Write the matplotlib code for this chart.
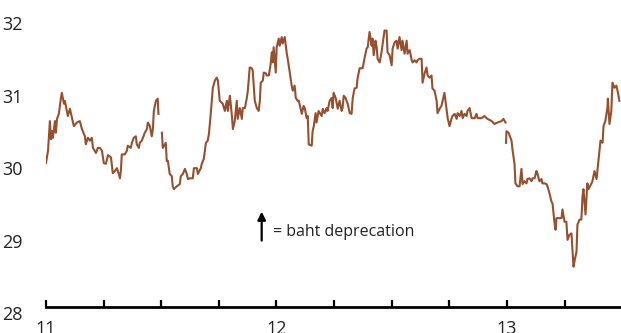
import numpy as np
import matplotlib
matplotlib.use("Agg")
import matplotlib.pyplot as plt
from matplotlib.ticker import FixedLocator, MultipleLocator

# baht per US dollar, decimal years since start of 2011 (nan = break in the line)
t_offset = [
    0.000, 0.009, 0.017, 0.022, 0.026, 0.030, 0.039, 0.043, 0.048, 0.056,
    0.065, 0.069, 0.078, 0.082, 0.095, 0.104, 0.113, 0.121, 0.134, 0.147,
    0.156, 0.169, 0.173, 0.182, 0.191, 0.199, 0.204, 0.217, 0.225, 0.234,
    0.243, 0.251, 0.260, 0.269, 0.282, 0.290, 0.299, 0.308, 0.316, 0.321,
    0.325, 0.329, 0.342, 0.351, 0.355, 0.368, 0.373, 0.381, 0.390, 0.394,
    0.403, 0.407, 0.416, 0.429, 0.438, 0.442, 0.451, 0.459, 0.464, 0.468,
    0.477, 0.485, 0.488, 0.495, 0.503, 0.507, 0.516, 0.520, 0.524, 0.529,
    0.537, 0.546, 0.550, 0.555, 0.568, 0.581, 0.585, 0.594, 0.603, 0.611,
    0.616, 0.624, 0.637, 0.642, 0.655, 0.659, 0.672, 0.676, 0.685, 0.694,
    0.702, 0.707, 0.715, 0.724, 0.733, 0.741, 0.746, 0.754, 0.767, 0.776,
    0.785, 0.789, 0.798, 0.806, 0.811, 0.819, 0.828, 0.832, 0.841, 0.850,
    0.854, 0.863, 0.871, 0.876, 0.884, 0.893, 0.897, 0.906, 0.915, 0.923,
    0.928, 0.932, 0.941, 0.945, 0.954, 0.958, 0.967, 0.975, 0.980, 0.984,
    0.988, 0.997, 1.001, 1.010, 1.014, 1.023, 1.027, 1.036, 1.045, 1.049,
    1.058, 1.066, 1.071, 1.079, 1.084, 1.092, 1.097, 1.105, 1.110, 1.118,
    1.123, 1.131, 1.136, 1.140, 1.153, 1.157, 1.162, 1.170, 1.174, 1.183,
    1.196, 1.201, 1.209, 1.218, 1.222, 1.231, 1.240, 1.244, 1.248, 1.257,
    1.266, 1.274, 1.283, 1.287, 1.292, 1.300, 1.309, 1.318, 1.326, 1.331,
    1.339, 1.348, 1.352, 1.361, 1.374, 1.383, 1.391, 1.396, 1.404, 1.413,
    1.417, 1.422, 1.430, 1.435, 1.439, 1.448, 1.456, 1.461, 1.469, 1.478,
    1.482, 1.491, 1.500, 1.504, 1.513, 1.521, 1.526, 1.534, 1.543, 1.547,
    1.556, 1.565, 1.569, 1.578, 1.587, 1.591, 1.599, 1.608, 1.612, 1.621,
    1.630, 1.634, 1.643, 1.651, 1.656, 1.664, 1.673, 1.677, 1.686, 1.695,
    1.699, 1.708, 1.716, 1.721, 1.729, 1.738, 1.743, 1.751, 1.760, 1.764,
    1.773, 1.782, 1.786, 1.795, 1.803, 1.808, 1.816, 1.825, 1.829, 1.838,
    1.847, 1.860, 1.868, 1.873, 1.890, 1.903, 1.912, 1.916, 1.934, 1.946,
    1.959, 1.977, 1.985, 1.994, 1.995, 1.996, 1.998, 2.007, 2.020, 2.024,
    2.033, 2.037, 2.046, 2.055, 2.063, 2.068, 2.076, 2.085, 2.089, 2.098,
    2.107, 2.111, 2.120, 2.128, 2.133, 2.141, 2.150, 2.154, 2.163, 2.172,
    2.176, 2.185, 2.193, 2.198, 2.206, 2.211, 2.215, 2.224, 2.237, 2.241,
    2.250, 2.258, 2.263, 2.271, 2.280, 2.284, 2.289, 2.293, 2.302, 2.306,
    2.315, 2.323, 2.328, 2.332, 2.341, 2.349, 2.354, 2.367, 2.371, 2.380,
    2.389, 2.397, 2.406, 2.415, 2.419, 2.427, 2.436, 2.438, 2.445, 2.453,
    2.458, 2.467, 2.475, 2.480, 2.488,
]
thb_usd = [
    30.07, 30.24, 30.65, 30.40, 30.51, 30.42, 30.65, 30.49, 30.68, 30.75,
    30.97, 31.04, 30.89, 30.93, 30.72, 30.82, 30.69, 30.58, 30.63, 30.65,
    30.54, 30.44, 30.33, 30.42, 30.38, 30.42, 30.28, 30.21, 30.28, 30.28,
    30.24, 30.07, 30.06, 30.18, 30.15, 29.93, 29.96, 30.00, 29.92, 29.86,
    29.96, 30.19, 30.19, 30.24, 30.31, 30.28, 30.35, 30.42, 30.44, 30.33,
    30.28, 30.35, 30.38, 30.49, 30.54, 30.63, 30.58, 30.44, 30.54, 30.79,
    30.93, 30.96, 30.75, np.nan, 30.49, 30.28, 30.33, 30.35, 30.10, 30.10,
    29.92, 29.89, 29.75, 29.71, 29.75, 29.78, 29.89, 29.92, 29.99, 29.92,
    29.85, 29.86, 29.86, 30.00, 30.00, 29.92, 30.00, 30.06, 30.13, 30.35,
    30.38, 30.47, 30.75, 31.11, 31.21, 31.25, 31.21, 30.93, 30.89, 30.79,
    30.93, 30.79, 31.00, 30.75, 30.54, 30.65, 30.93, 30.68, 30.83, 30.68,
    30.83, 30.83, 30.96, 31.07, 31.39, 31.38, 31.35, 30.93, 30.83, 30.79,
    30.93, 31.18, 31.21, 31.32, 31.31, 31.28, 31.28, 31.44, 31.60, 31.46,
    31.67, 31.32, 31.67, 31.79, 31.69, 31.81, 31.72, 31.81, 31.58, 31.51,
    31.32, 31.14, 31.07, 31.14, 30.97, 30.93, 30.93, 30.82, 30.75, 30.86,
    30.83, 30.69, 30.72, 30.33, 30.31, 30.51, 30.58, 30.76, 30.63, 30.79,
    30.72, 30.82, 30.76, 30.83, 30.79, 30.93, 30.97, 30.83, 31.04, 30.97,
    30.82, 30.93, 30.79, 30.83, 31.00, 30.97, 30.89, 30.76, 30.75, 30.97,
    31.10, 31.11, 31.24, 31.38, 31.38, 31.53, 31.65, 31.67, 31.88, 31.69,
    31.79, 31.56, 31.76, 31.67, 31.51, 31.46, 31.60, 31.72, 31.90, 31.90,
    31.60, 31.56, 31.42, 31.65, 31.74, 31.76, 31.65, 31.81, 31.63, 31.76,
    31.58, 31.76, 31.58, 31.63, 31.49, 31.46, 31.49, 31.46, 31.49, 31.51,
    31.51, 31.18, 31.31, 31.39, 31.28, 31.25, 31.28, 31.10, 31.07, 30.93,
    30.76, 30.82, 30.86, 30.93, 31.04, 30.82, 30.69, 30.58, 30.69, 30.72,
    30.75, 30.68, 30.76, 30.72, 30.79, 30.69, 30.75, 30.72, 30.79, 30.83,
    30.69, 30.69, 30.75, 30.69, 30.69, 30.72, 30.69, 30.68, 30.65, 30.61,
    30.63, 30.65, 30.68, 30.63, np.nan, 30.35, 30.51, 30.49, 30.38, 30.26,
    30.06, 29.79, 29.75, 29.75, 29.99, 29.78, 29.82, 29.79, 29.85, 29.86,
    29.82, 29.86, 29.86, 29.96, 29.92, 29.82, 29.85, 29.79, 29.79, 29.78,
    29.75, 29.65, 29.54, 29.51, 29.26, 29.15, 29.31, 29.31, 29.31, 29.43,
    29.26, 29.26, 29.01, 29.08, 29.10, 28.89, 28.64, 28.71, 28.85, 29.22,
    29.29, 29.29, 29.61, 29.71, 29.36, 29.79, 29.71, 29.79, 29.82, 29.96,
    29.85, 30.10, 30.38, 30.35, 30.58, 30.65, 30.83, 30.96, 30.61, 30.79,
    31.18, 31.11, 31.14, 31.07, 30.93,
]

year_ticks = [2011, 2012, 2013]
year_labels = ["11", "12", "13"]

line_color = "#96502f"
text_color = "#222222"

plt.rcParams["font.family"] = ["Open Sans", "DejaVu Sans"]

years = 2011 + np.array(t_offset)

fig = plt.figure(figsize=(6.21, 3.33), dpi=100)
ax = fig.add_axes([0.074, 0.060, 0.926, 0.870])

ax.plot(years, thb_usd, color=line_color, linewidth=1.5)

ax.set_xlim(2011, 2013.495)
ax.set_ylim(28, 32)

for side in ["left", "right", "top"]:
    ax.spines[side].set_visible(False)
ax.spines["bottom"].set_position(("data", 28.08))
ax.spines["bottom"].set_linewidth(2)

ax.xaxis.set_major_locator(FixedLocator(year_ticks))
ax.set_xticklabels(year_labels)
ax.xaxis.set_minor_locator(MultipleLocator(0.25))
ax.tick_params(axis="x", which="both", direction="in", length=5, width=1.6,
               colors="black", labelcolor=text_color, labelsize=13, pad=9)

ax.set_yticks([28, 29, 30, 31, 32])
ax.tick_params(axis="y", length=0, pad=17, labelsize=13, labelcolor=text_color)

ax.annotate("", xy=(2011.936, 29.40), xytext=(2011.936, 29.00),
            arrowprops=dict(arrowstyle="-|>", color="black", lw=1.6,
                            mutation_scale=12, shrinkA=0, shrinkB=0))
ax.text(2011.984, 29.12, "= baht deprecation", fontsize=11.5,
        color=text_color, va="center", ha="left")

fig.savefig("out.png", dpi=100)
